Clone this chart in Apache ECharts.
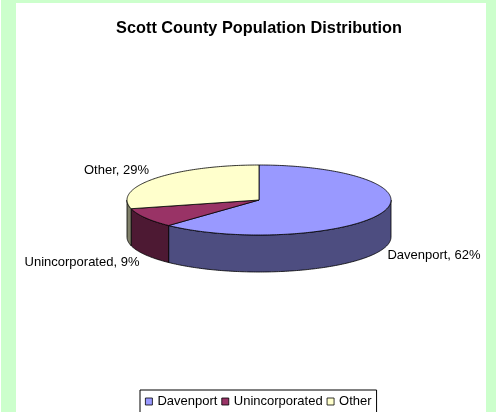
<!DOCTYPE html>
<html><head><meta charset="utf-8">
<style>html,body{margin:0;padding:0;background:#fff}#c{width:496px;height:412px}</style>
<script src="https://cdn.jsdelivr.net/npm/echarts@6/dist/echarts.min.js"></script>
</head><body><div id="c"></div>
<script>
const titleText = 'Scott County Population Distribution';
const categories = ['Davenport', 'Unincorporated', 'Other'];
const percents = [62, 9, 29];
const topColors = ['#9999FF', '#993366', '#FFFFCC'];
const sideColors = ['#4D4D80', '#4D1933', '#80806A'];
const labelPos = [[434, 255], [82, 262], [116.5, 170]];

const geo = { cx: 259, cy: 200, rx: 132, ry: 35, depth: 37 };
const total = percents.reduce((a, b) => a + b, 0);
const pt = (deg, dy) => {
  const r = deg * Math.PI / 180;
  return [geo.cx + geo.rx * Math.sin(r), geo.cy - geo.ry * Math.cos(r) + (dy || 0)];
};
const arc = (a, b, dy) => {
  const out = [], n = Math.max(2, Math.ceil(Math.abs(b - a)));
  for (let i = 0; i <= n; i++) out.push(pt(a + (b - a) * i / n, dy));
  return out;
};
const line = { stroke: '#000', lineWidth: 0.8, lineJoin: 'round' };

function renderSlice(params, api) {
  const i = params.seriesIndex;
  const before = percents.slice(0, i).reduce((a, b) => a + b, 0);
  const a0 = before / total * 360;
  const a1 = a0 + api.value(0) / total * 360;
  const children = [];
  const s0 = Math.max(a0, 90), s1 = Math.min(a1, 270);
  if (s1 > s0) {
    children.push({
      type: 'polygon',
      shape: { points: arc(s0, s1, 0).concat(arc(s1, s0, geo.depth)) },
      style: Object.assign({ fill: sideColors[i] }, line)
    });
  }
  children.push({
    type: 'polygon',
    shape: { points: [[geo.cx, geo.cy]].concat(arc(a0, a1, 0)) },
    style: Object.assign({ fill: topColors[i] }, line)
  });
  children.push({
    type: 'text',
    style: {
      text: categories[i] + ', ' + api.value(0) + '%',
      x: labelPos[i][0], y: labelPos[i][1],
      align: 'center', verticalAlign: 'middle',
      font: '13px "Liberation Sans"', fill: '#000'
    }
  });
  return { type: 'group', children };
}

const chart = echarts.init(document.getElementById('c'), null, { renderer: 'canvas' });
chart.setOption({
  animation: false,
  backgroundColor: '#CCFFCC',
  graphic: [
    { type: 'rect', z: -10, shape: { x: 16, y: 3, width: 470, height: 409 }, style: { fill: '#fff' } },
    { type: 'rect', z: -10, shape: { x: 0, y: 0, width: 1, height: 412 }, style: { fill: '#fff' } }
  ],
  title: {
    text: titleText, left: 254, top: 16, textAlign: 'center',
    textStyle: { fontFamily: 'Liberation Sans', fontSize: 16.3, fontWeight: 'bold', color: '#000' }
  },
  legend: {
    data: categories.map((name, i) => ({
      name, icon: 'rect',
      itemStyle: { color: topColors[i], borderColor: '#000', borderWidth: 0.8 }
    })),
    left: 140, top: 390, orient: 'horizontal',
    itemWidth: 7, itemHeight: 7, itemGap: 4,
    padding: [5, 5, 20, 5],
    borderColor: '#000', borderWidth: 1, backgroundColor: '#fff',
    selectedMode: false,
    textStyle: { fontFamily: 'Liberation Sans', fontSize: 13, color: '#000' }
  },
  xAxis: { show: false }, yAxis: { show: false },
  series: categories.map((name, i) => ({
    type: 'custom', name, coordinateSystem: 'none', silent: true,
    itemStyle: { color: topColors[i] },
    renderItem: renderSlice,
    data: [[percents[i]]]
  }))
});
</script></body></html>
